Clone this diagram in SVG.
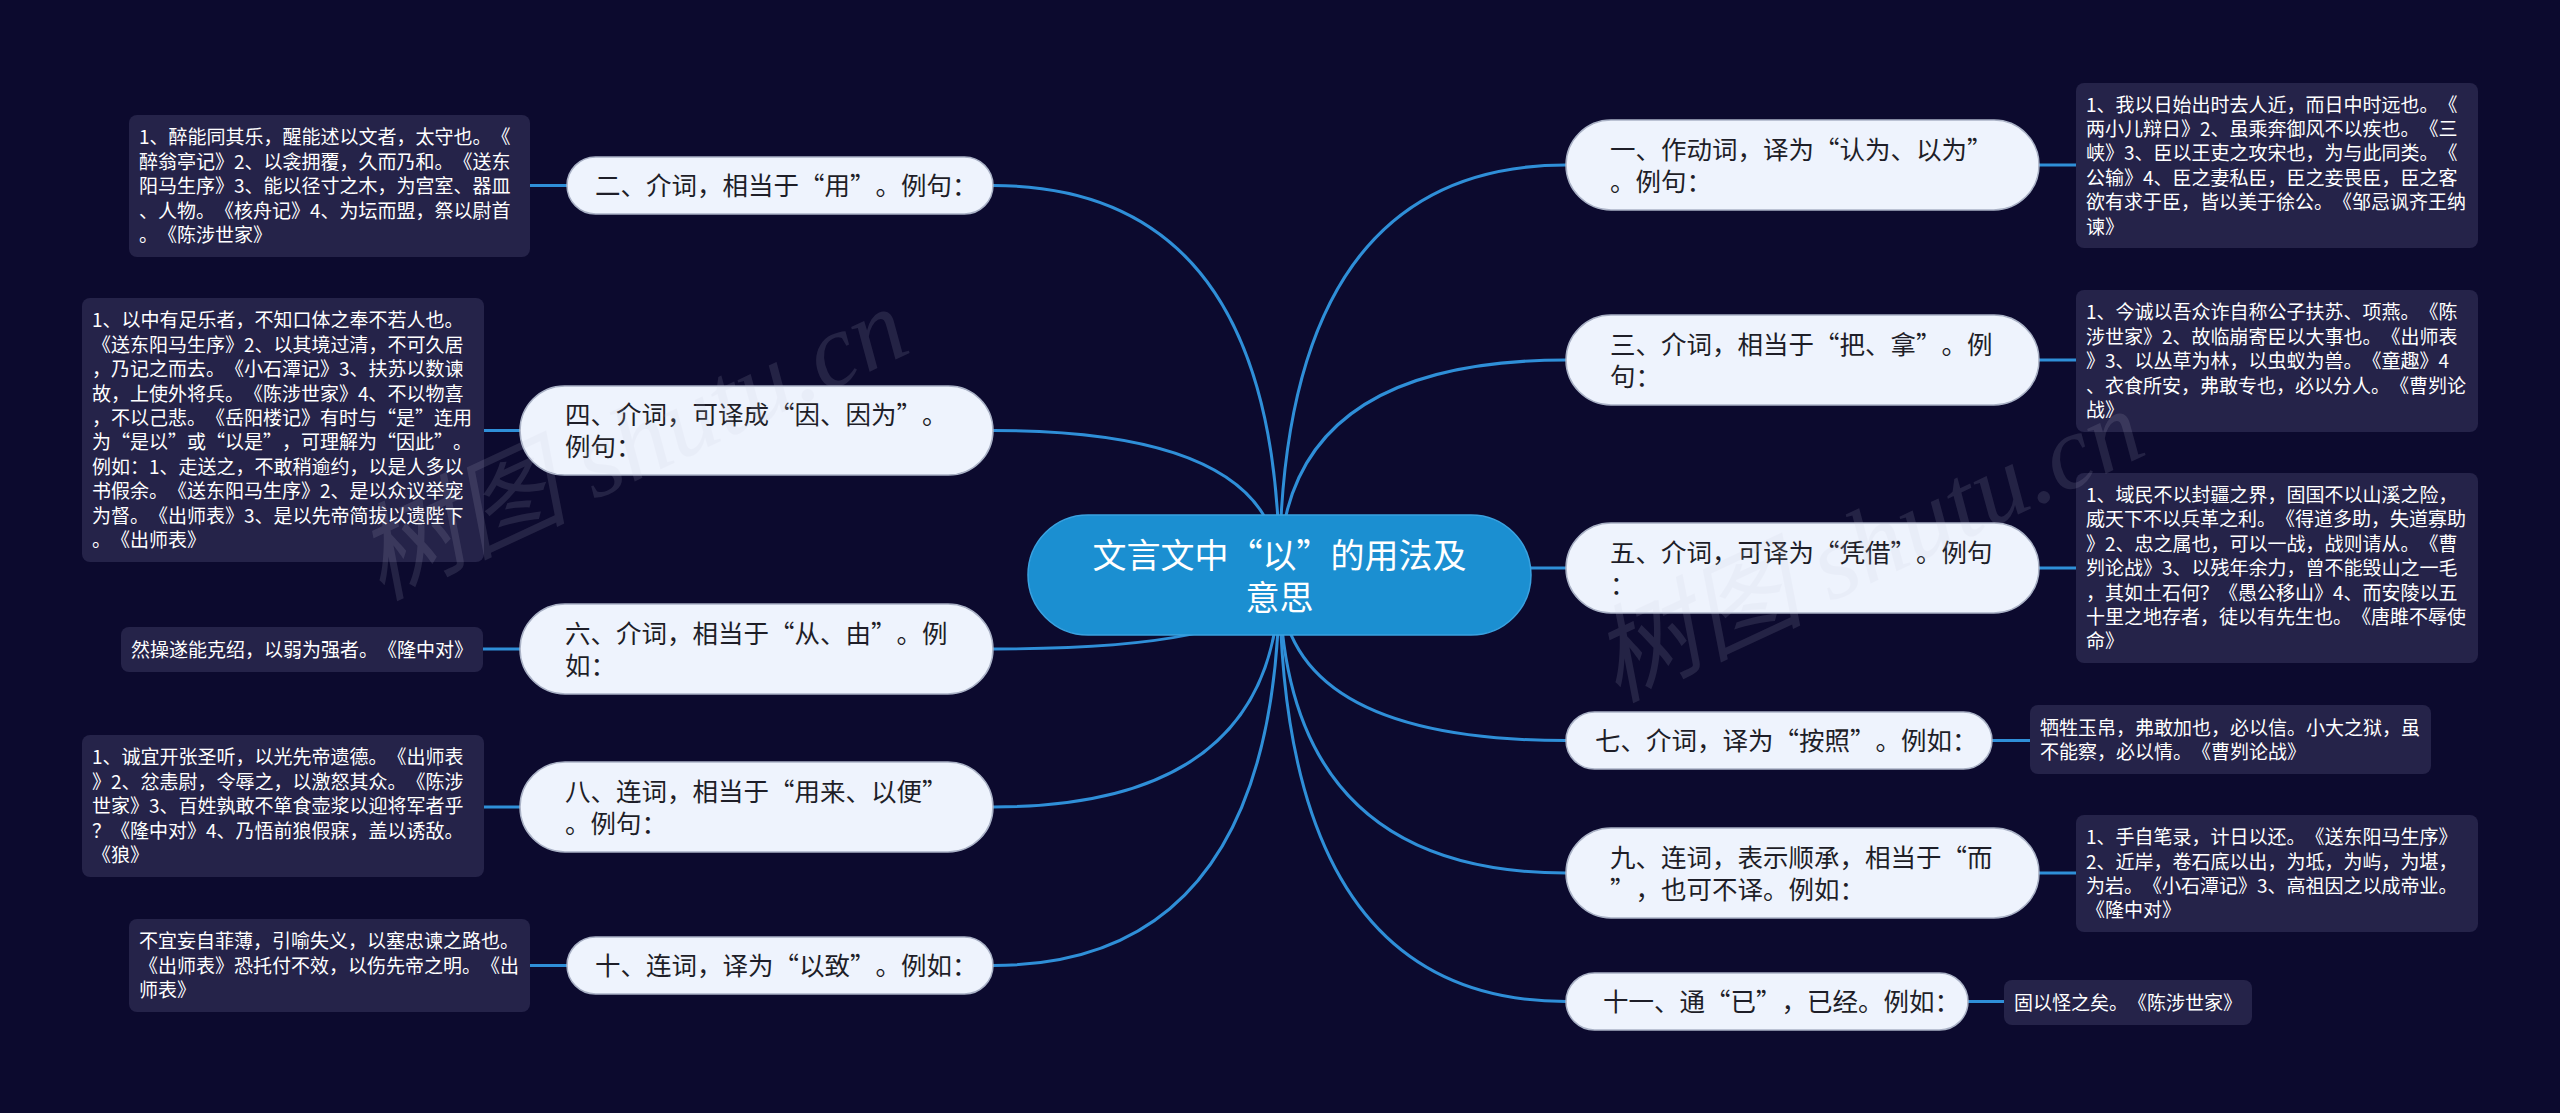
<svg xmlns="http://www.w3.org/2000/svg" width="2560" height="1113" viewBox="0 0 2560 1113">
<style>
.bg{fill:#0c0a2e}
.link{fill:none;stroke:#2f8fd8;stroke-width:3}
.pill{fill:#eef3fd;stroke:#aab2c6;stroke-width:1.5}
.note{fill:#252349}
.root{fill:#1b8fd1;stroke:#3aa2e0;stroke-width:1.5}
text{text-spacing-trim:space-all}
.nt{font-family:"Noto Sans CJK SC",sans-serif;font-size:25.5px;fill:#1e1e28}
.wt{font-family:"Noto Sans CJK SC",sans-serif;font-size:19px;fill:#ffffff}
.rt{font-family:"Noto Sans CJK SC",sans-serif;font-size:34px;fill:#ffffff;text-anchor:middle}
.wm{font-family:"Liberation Serif","Noto Sans CJK SC",serif;font-style:italic;font-size:105px;fill:#c8c8dc;opacity:0.13}
</style>
<rect class="bg" x="0" y="0" width="2560" height="1113"/>
<g id="connectors">
<path class="link" d="M1279.5 575 Q1279.5 185.5 993 185.5"/>
<path class="link" d="M1279.5 575 Q1279.5 430.5 993 430.5"/>
<path class="link" d="M1279.5 575 Q1279.5 649 993 649"/>
<path class="link" d="M1279.5 575 Q1279.5 807 993 807"/>
<path class="link" d="M1279.5 575 Q1279.5 965.5 993 965.5"/>
<path class="link" d="M1279.5 575 Q1279.5 165 1566 165"/>
<path class="link" d="M1279.5 575 Q1279.5 360 1566 360"/>
<path class="link" d="M1279.5 575 Q1279.5 568 1566 568"/>
<path class="link" d="M1279.5 575 Q1279.5 740.5 1566 740.5"/>
<path class="link" d="M1279.5 575 Q1279.5 873 1566 873"/>
<path class="link" d="M1279.5 575 Q1279.5 1001.5 1566 1001.5"/>
<path class="link" d="M567 185.5 H530"/>
<path class="link" d="M520 430.5 H484"/>
<path class="link" d="M520 649 H483"/>
<path class="link" d="M520 807 H484"/>
<path class="link" d="M567 965.5 H530"/>
<path class="link" d="M2039 165 H2076"/>
<path class="link" d="M2039 360 H2076"/>
<path class="link" d="M2039 568 H2076"/>
<path class="link" d="M1992 740.5 H2030"/>
<path class="link" d="M2039 873 H2076"/>
<path class="link" d="M1968 1001.5 H2004"/>
</g>
<g id="root">
<rect class="root" x="1028" y="515" width="503" height="120" rx="60"/>
<text class="rt" x="1279.5" y="568">文言文中“以”的用法及</text>
<text class="rt" x="1279.5" y="610">意思</text>
</g>
<g id="n2">
<rect class="pill" x="567" y="157" width="426" height="57" rx="28.5"/>
<text class="nt" x="595" y="194.5">二、介词，相当于“用”。例句：</text>
</g>
<g id="n4">
<rect class="pill" x="520" y="386" width="473" height="89" rx="44.5"/>
<text class="nt" x="565" y="424">四、介词，可译成“因、因为”。</text>
<text class="nt" x="565" y="456">例句：</text>
</g>
<g id="n6">
<rect class="pill" x="520" y="604" width="473" height="90" rx="45"/>
<text class="nt" x="565" y="643">六、介词，相当于“从、由”。例</text>
<text class="nt" x="565" y="675">如：</text>
</g>
<g id="n8">
<rect class="pill" x="520" y="762" width="473" height="90" rx="45"/>
<text class="nt" x="565" y="801">八、连词，相当于“用来、以便”</text>
<text class="nt" x="565" y="833">。例句：</text>
</g>
<g id="n10">
<rect class="pill" x="567" y="937" width="426" height="57" rx="28.5"/>
<text class="nt" x="595" y="974.5">十、连词，译为“以致”。例如：</text>
</g>
<g id="n1">
<rect class="pill" x="1566" y="120" width="473" height="90" rx="45"/>
<text class="nt" x="1610" y="159">一、作动词，译为“认为、以为”</text>
<text class="nt" x="1610" y="191">。例句：</text>
</g>
<g id="n3">
<rect class="pill" x="1566" y="315" width="473" height="90" rx="45"/>
<text class="nt" x="1610" y="354">三、介词，相当于“把、拿”。例</text>
<text class="nt" x="1610" y="386">句：</text>
</g>
<g id="n5">
<rect class="pill" x="1566" y="523" width="473" height="90" rx="45"/>
<text class="nt" x="1610" y="562">五、介词，可译为“凭借”。例句</text>
<text class="nt" x="1610" y="594">：</text>
</g>
<g id="n7">
<rect class="pill" x="1566" y="712" width="426" height="57" rx="28.5"/>
<text class="nt" x="1595" y="749.5">七、介词，译为“按照”。例如：</text>
</g>
<g id="n9">
<rect class="pill" x="1566" y="828" width="473" height="90" rx="45"/>
<text class="nt" x="1610" y="867">九、连词，表示顺承，相当于“而</text>
<text class="nt" x="1610" y="899">”，也可不译。例如：</text>
</g>
<g id="n11">
<rect class="pill" x="1566" y="973" width="402" height="57" rx="28.5"/>
<text class="nt" x="1603" y="1010.5">十一、通“已”，已经。例如：</text>
</g>
<g id="note2">
<rect class="note" x="129" y="115" width="401" height="142" rx="8"/>
<text class="wt" x="139"><tspan x="139" y="144.4">1、醉能同其乐，醒能述以文者，太守也。《</tspan><tspan x="139" y="168.8">醉翁亭记》2、以衾拥覆，久而乃和。《送东</tspan><tspan x="139" y="193.2">阳马生序》3、能以径寸之木，为宫室、器皿</tspan><tspan x="139" y="217.6">、人物。《核舟记》4、为坛而盟，祭以尉首</tspan><tspan x="139" y="242">。《陈涉世家》</tspan></text>
</g>
<g id="note4">
<rect class="note" x="82" y="298" width="402" height="264" rx="8"/>
<text class="wt" x="92"><tspan x="92" y="327.4">1、以中有足乐者，不知口体之奉不若人也。</tspan><tspan x="92" y="351.8">《送东阳马生序》2、以其境过清，不可久居</tspan><tspan x="92" y="376.2">，乃记之而去。《小石潭记》3、扶苏以数谏</tspan><tspan x="92" y="400.6">故，上使外将兵。《陈涉世家》4、不以物喜</tspan><tspan x="92" y="425">，不以己悲。《岳阳楼记》有时与“是”连用</tspan><tspan x="92" y="449.4">为“是以”或“以是”，可理解为“因此”。</tspan><tspan x="92" y="473.8">例如：1、走送之，不敢稍逾约，以是人多以</tspan><tspan x="92" y="498.2">书假余。《送东阳马生序》2、是以众议举宠</tspan><tspan x="92" y="522.6">为督。《出师表》3、是以先帝简拔以遗陛下</tspan><tspan x="92" y="547">。《出师表》</tspan></text>
</g>
<g id="note6">
<rect class="note" x="121" y="627" width="362" height="45" rx="8"/>
<text class="wt" x="131" y="656.7">然操遂能克绍，以弱为强者。《隆中对》</text>
</g>
<g id="note8">
<rect class="note" x="82" y="735" width="402" height="142" rx="8"/>
<text class="wt" x="92"><tspan x="92" y="764.4">1、诚宜开张圣听，以光先帝遗德。《出师表</tspan><tspan x="92" y="788.8">》2、忿恚尉，令辱之，以激怒其众。《陈涉</tspan><tspan x="92" y="813.2">世家》3、百姓孰敢不箪食壶浆以迎将军者乎</tspan><tspan x="92" y="837.6">？《隆中对》4、乃悟前狼假寐，盖以诱敌。</tspan><tspan x="92" y="862">《狼》</tspan></text>
</g>
<g id="note10">
<rect class="note" x="129" y="919" width="401" height="93" rx="8"/>
<text class="wt" x="139"><tspan x="139" y="948.3">不宜妄自菲薄，引喻失义，以塞忠谏之路也。</tspan><tspan x="139" y="972.7">《出师表》恐托付不效，以伤先帝之明。《出</tspan><tspan x="139" y="997.1">师表》</tspan></text>
</g>
<g id="note1">
<rect class="note" x="2076" y="83" width="402" height="165" rx="8"/>
<text class="wt" x="2086"><tspan x="2086" y="111.5">1、我以日始出时去人近，而日中时远也。《</tspan><tspan x="2086" y="135.9">两小儿辩日》2、虽乘奔御风不以疾也。《三</tspan><tspan x="2086" y="160.3">峡》3、臣以王吏之攻宋也，为与此同类。《</tspan><tspan x="2086" y="184.7">公输》4、臣之妻私臣，臣之妾畏臣，臣之客</tspan><tspan x="2086" y="209.1">欲有求于臣，皆以美于徐公。《邹忌讽齐王纳</tspan><tspan x="2086" y="233.5">谏》</tspan></text>
</g>
<g id="note3">
<rect class="note" x="2076" y="290" width="402" height="142" rx="8"/>
<text class="wt" x="2086"><tspan x="2086" y="319.4">1、今诚以吾众诈自称公子扶苏、项燕。《陈</tspan><tspan x="2086" y="343.8">涉世家》2、故临崩寄臣以大事也。《出师表</tspan><tspan x="2086" y="368.2">》3、以丛草为林，以虫蚁为兽。《童趣》4</tspan><tspan x="2086" y="392.6">、衣食所安，弗敢专也，必以分人。《曹刿论</tspan><tspan x="2086" y="417">战》</tspan></text>
</g>
<g id="note5">
<rect class="note" x="2076" y="473" width="402" height="190" rx="8"/>
<text class="wt" x="2086"><tspan x="2086" y="502">1、域民不以封疆之界，固国不以山溪之险，</tspan><tspan x="2086" y="526.4">威天下不以兵革之利。《得道多助，失道寡助</tspan><tspan x="2086" y="550.8">》2、忠之属也，可以一战，战则请从。《曹</tspan><tspan x="2086" y="575.2">刿论战》3、以残年余力，曾不能毁山之一毛</tspan><tspan x="2086" y="599.6">，其如土石何？《愚公移山》4、而安陵以五</tspan><tspan x="2086" y="624">十里之地存者，徒以有先生也。《唐雎不辱使</tspan><tspan x="2086" y="648.4">命》</tspan></text>
</g>
<g id="note7">
<rect class="note" x="2030" y="705" width="401" height="69" rx="8"/>
<text class="wt" x="2040"><tspan x="2040" y="734.5">牺牲玉帛，弗敢加也，必以信。小大之狱，虽</tspan><tspan x="2040" y="758.9">不能察，必以情。《曹刿论战》</tspan></text>
</g>
<g id="note9">
<rect class="note" x="2076" y="815" width="402" height="117" rx="8"/>
<text class="wt" x="2086"><tspan x="2086" y="844.2">1、手自笔录，计日以还。《送东阳马生序》</tspan><tspan x="2086" y="868.6">2、近岸，卷石底以出，为坻，为屿，为堪，</tspan><tspan x="2086" y="893">为岩。《小石潭记》3、高祖因之以成帝业。</tspan><tspan x="2086" y="917.4">《隆中对》</tspan></text>
</g>
<g id="note11">
<rect class="note" x="2004" y="980" width="248" height="45" rx="8"/>
<text class="wt" x="2014" y="1009.7">固以怪之矣。《陈涉世家》</text>
</g>
<g id="watermarks">
<text class="wm" transform="translate(380 600) rotate(-25)">树图 shutu.cn</text>
<text class="wm" transform="translate(1616 702) rotate(-25)">树图 shutu.cn</text>
</g>
</svg>
